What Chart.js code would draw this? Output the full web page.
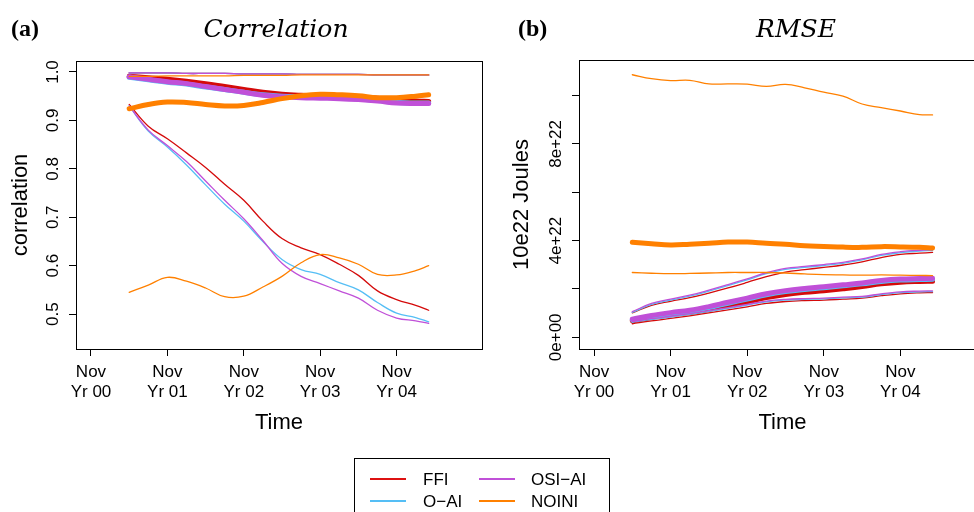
<!DOCTYPE html>
<html>
<head>
<meta charset="utf-8">
<script src="https://cdn.jsdelivr.net/npm/chart.js@4"></script>
<style>
  html, body { margin:0; padding:0; background:#fff; width:974px; height:512px; overflow:hidden; position:relative; }
  canvas { position:absolute; top:0; }
  .t { position:absolute; line-height:1; white-space:nowrap; color:#000; }
  .panel { font-family:"Liberation Serif", serif; font-weight:bold; font-size:24px; }
  .ttl { font-family:"DejaVu Serif", serif; font-style:italic; font-size:25px; transform:translateX(-50%); }
  #legend { position:absolute; left:354px; top:458px; width:256px; height:80px; border:1px solid #000; box-sizing:border-box; }
  .li { position:absolute; font-family:"Liberation Sans", Arial, sans-serif; font-size:17px; line-height:1; }
  .ln { position:absolute; height:2px; }
</style>
</head>
<body>
<canvas id="c1" width="487" height="512" style="left:0px"></canvas>
<canvas id="c2" width="520" height="512" style="left:487px"></canvas>

<div class="t panel" style="left:11px; top:16px;">(a)</div>
<div class="t ttl" style="left:276px; top:16px;">Correlation</div>
<div class="t panel" style="left:518px; top:16px;">(b)</div>
<div class="t ttl" style="left:796px; top:16px;">RMSE</div>

<div id="legend">
  <div class="ln" style="left:15px; top:19px; width:36px; background:#dd1111"></div>
  <div class="li" style="left:68px; top:12px;">FFI</div>
  <div class="ln" style="left:124px; top:19px; width:36px; background:#c050d8"></div>
  <div class="li" style="left:176px; top:12px;">OSI−AI</div>
  <div class="ln" style="left:15px; top:41px; width:36px; background:#55bef5"></div>
  <div class="li" style="left:68px; top:34px;">O−AI</div>
  <div class="ln" style="left:124px; top:41px; width:36px; background:#ff8000"></div>
  <div class="li" style="left:176px; top:34px;">NOINI</div>
</div>

<script>
// ---------- data ----------
const timeYears = [0.5,0.75,1.0,1.25,1.5,1.75,2.0,2.25,2.5,2.75,3.0,3.25,3.5,3.75,4.0,4.25,4.42];
const xTickValues = [0,1,2,3,4];
const xTickLabels = [["Nov","Yr 00"],["Nov","Yr 01"],["Nov","Yr 02"],["Nov","Yr 03"],["Nov","Yr 04"]];
const corrYTicks = [0.5,0.6,0.7,0.8,0.9,1.0];
const corrYLabels = ["0.5","0.6","0.7","0.8","0.9","1.0"];
const rmseYTicks = [0,2,4,6,8,10];
const rmseYLabels = ["0e+00","","4e+22","","8e+22",""];

// Correlation
const corrFFIThick  = [0.991,0.988,0.985,0.981,0.976,0.970,0.964,0.958,0.954,0.952,0.951,0.950,0.948,0.946,0.942,0.940,0.939];
const corrOAIThick  = [0.989,0.984,0.979,0.975,0.969,0.964,0.958,0.953,0.950,0.949,0.948,0.947,0.944,0.941,0.937,0.936,0.936];
const corrOSIThick  = [0.990,0.985,0.980,0.976,0.970,0.964,0.958,0.952,0.949,0.947,0.946,0.945,0.943,0.940,0.936,0.935,0.935];
const corrNOINIThick= [0.924,0.933,0.938,0.937,0.933,0.930,0.931,0.937,0.945,0.951,0.954,0.953,0.951,0.947,0.947,0.950,0.953];
const corrFFITop    = [0.998,0.998,0.998,0.997,0.997,0.997,0.996,0.996,0.996,0.995,0.995,0.995,0.995,0.994,0.994,0.994,0.994];
const corrOAITop    = [0.998,0.998,0.998,0.997,0.997,0.997,0.996,0.996,0.996,0.995,0.995,0.995,0.995,0.994,0.994,0.994,0.994];
const corrOSITop    = [0.998,0.998,0.998,0.997,0.997,0.997,0.996,0.996,0.996,0.995,0.995,0.995,0.995,0.994,0.994,0.994,0.994];
const corrNOINITop  = [0.991,0.991,0.992,0.992,0.992,0.992,0.993,0.993,0.993,0.994,0.994,0.994,0.994,0.994,0.994,0.994,0.994];
const corrFFILow    = [0.933,0.888,0.862,0.833,0.803,0.768,0.735,0.692,0.656,0.637,0.623,0.603,0.580,0.548,0.530,0.518,0.508];
const corrOAILow    = [0.930,0.878,0.845,0.808,0.767,0.727,0.692,0.650,0.613,0.592,0.582,0.565,0.550,0.524,0.502,0.493,0.484];
const corrOSILow    = [0.930,0.880,0.848,0.815,0.775,0.735,0.697,0.652,0.605,0.578,0.563,0.548,0.533,0.508,0.492,0.486,0.481];
const corrNOINILow  = [0.545,0.560,0.576,0.568,0.554,0.536,0.537,0.556,0.578,0.606,0.623,0.616,0.603,0.582,0.581,0.590,0.600];

// RMSE (units of 1e22 Joules)
const rmseFFIThick  = [0.68,0.82,0.93,1.02,1.15,1.31,1.47,1.64,1.77,1.86,1.93,2.01,2.10,2.21,2.28,2.31,2.32];
const rmseOAIThick  = [0.72,0.86,0.98,1.08,1.23,1.41,1.58,1.76,1.89,1.98,2.05,2.13,2.21,2.31,2.37,2.39,2.40];
const rmseOSIThick  = [0.75,0.90,1.02,1.12,1.27,1.45,1.62,1.80,1.93,2.02,2.09,2.17,2.25,2.35,2.41,2.43,2.44];
const rmseNOINIThick= [3.93,3.87,3.82,3.85,3.89,3.94,3.94,3.89,3.85,3.79,3.76,3.73,3.72,3.75,3.74,3.72,3.69];
const rmseFFIHigh   = [1.01,1.32,1.49,1.64,1.83,2.04,2.27,2.51,2.70,2.80,2.89,2.99,3.12,3.30,3.43,3.48,3.51];
const rmseOAIHigh   = [1.03,1.36,1.54,1.70,1.91,2.14,2.38,2.63,2.81,2.89,2.97,3.06,3.20,3.39,3.50,3.57,3.59];
const rmseOSIHigh   = [1.06,1.40,1.58,1.74,1.95,2.18,2.42,2.67,2.85,2.93,3.01,3.10,3.24,3.43,3.54,3.60,3.62];
const rmseNOINIHigh = [10.86,10.70,10.62,10.63,10.48,10.48,10.47,10.38,10.46,10.32,10.14,9.98,9.65,9.50,9.36,9.21,9.20];
const rmseFFILow    = [0.56,0.68,0.78,0.89,1.01,1.13,1.26,1.40,1.48,1.52,1.54,1.58,1.62,1.72,1.80,1.84,1.85];
const rmseOAILow    = [0.62,0.74,0.84,0.95,1.07,1.20,1.33,1.47,1.54,1.57,1.59,1.63,1.66,1.77,1.85,1.88,1.89];
const rmseOSILow    = [0.65,0.77,0.87,0.98,1.10,1.23,1.36,1.50,1.57,1.60,1.62,1.66,1.69,1.80,1.88,1.91,1.92];
const rmseNOINIMid  = [2.68,2.65,2.63,2.64,2.66,2.68,2.68,2.68,2.66,2.62,2.59,2.58,2.57,2.58,2.57,2.56,2.55];

// ---------- styling ----------
const COL = { FFI:'#d40a0a', OAI:'#55bef5', OSI:'#c050d8', NOINI:'#ff8000' };
const ORD = { NOINI:0, OSI:1, OAI:2, FFI:3 };
const FONT = '"Liberation Sans", Arial, sans-serif';

function ds(values, key, thick) {
  return {
    data: values.map((v,i)=>({x: timeYears[i], y: v})),
    borderColor: COL[key],
    borderWidth: thick ? 5 : 1.3,
    pointRadius: 0,
    tension: 0.4,
    fill: false,
    order: ORD[key] * 2 + (thick ? 0 : 1),
    borderCapStyle: 'round',
    borderJoinStyle: 'round'
  };
}

function decorPlugin(yTicks, yLabels, yLabelX, yTitle, yTitleX) {
  return {
    id: 'decor',
    afterDraw(chart) {
      const ctx = chart.ctx, a = chart.chartArea, ys = chart.scales.y;
      ctx.save();
      ctx.strokeStyle = '#000'; ctx.lineWidth = 1;
      ctx.strokeRect(Math.round(a.left)+0.5, Math.round(a.top)+0.5, Math.round(a.right-a.left), Math.round(a.bottom-a.top));
      ctx.fillStyle = '#000';
      ctx.font = '17px ' + FONT;
      ctx.textAlign = 'center'; ctx.textBaseline = 'middle';
      yTicks.forEach((v,i)=>{
        if (!yLabels[i]) return;
        const py = ys.getPixelForValue(v);
        ctx.save(); ctx.translate(yLabelX, py); ctx.rotate(-Math.PI/2);
        ctx.fillText(yLabels[i], 0, 0); ctx.restore();
      });
      ctx.font = '22px ' + FONT;
      ctx.save(); ctx.translate(yTitleX, (a.top+a.bottom)/2); ctx.rotate(-Math.PI/2);
      ctx.fillText(yTitle, 0, 0); ctx.restore();
      ctx.fillText('Time', (a.left+a.right)/2, 423);
      ctx.restore();
    }
  };
}

function makeChart(id, datasets, yMin, yMax, yTicks, yLabels, padding, yWidth, yLabelX, yTitle, yTitleX) {
  return new Chart(document.getElementById(id), {
    type: 'line',
    data: { datasets },
    options: {
      responsive: false, animation: false,
      layout: { padding },
      plugins: { legend: { display:false }, tooltip: { enabled:false } },
      scales: {
        x: {
          type: 'linear', min: -0.196, max: 5.118,
          afterBuildTicks: s => { s.ticks = xTickValues.map(v=>({value:v})); },
          afterFit: s => { s.height = 163; },
          grid: { drawOnChartArea:false, drawTicks:true, tickLength:7, color:'#000', tickColor:'#000' },
          border: { display:false },
          ticks: {
            autoSkip:false, maxRotation:0, minRotation:0, padding:6, color:'#000',
            font: { size:17, family: FONT, lineHeight: 1.2 },
            callback: v => { const i = xTickValues.indexOf(v); return i >= 0 ? xTickLabels[i] : ''; }
          }
        },
        y: {
          type: 'linear', min: yMin, max: yMax,
          afterBuildTicks: s => { s.ticks = yTicks.map(v=>({value:v})); },
          afterFit: s => { s.width = yWidth; },
          grid: { drawOnChartArea:false, drawTicks:true, tickLength:7, color:'#000', tickColor:'#000' },
          border: { display:false },
          ticks: { color:'rgba(0,0,0,0)', font:{ size:17, family: FONT } }
        }
      }
    },
    plugins: [decorPlugin(yTicks, yLabels, yLabelX, yTitle, yTitleX)]
  });
}

makeChart('c1', [
  ds(corrFFIThick,'FFI',true), ds(corrOAIThick,'OAI',true), ds(corrOSIThick,'OSI',true), ds(corrNOINIThick,'NOINI',true),
  ds(corrFFITop,'FFI',false), ds(corrOAITop,'OAI',false), ds(corrOSITop,'OSI',false), ds(corrNOINITop,'NOINI',false),
  ds(corrFFILow,'FFI',false), ds(corrOAILow,'OAI',false), ds(corrOSILow,'OSI',false), ds(corrNOINILow,'NOINI',false)
], 0.428, 1.0227, corrYTicks, corrYLabels, {left:0, top:61, right:5, bottom:0}, 76, 53.5, 'correlation', 21);

makeChart('c2', [
  ds(rmseFFIThick,'FFI',true), ds(rmseOAIThick,'OAI',true), ds(rmseOSIThick,'OSI',true), ds(rmseNOINIThick,'NOINI',true),
  ds(rmseFFIHigh,'FFI',false), ds(rmseOAIHigh,'OAI',false), ds(rmseOSIHigh,'OSI',false), ds(rmseNOINIHigh,'NOINI',false),
  ds(rmseFFILow,'FFI',false), ds(rmseOAILow,'OAI',false), ds(rmseOSILow,'OSI',false), ds(rmseNOINIMid,'NOINI',false)
], -0.484, 11.47, rmseYTicks, rmseYLabels, {left:0, top:60, right:21, bottom:0}, 92, 69.7, '10e22 Joules', 35);
</script>
</body>
</html>
